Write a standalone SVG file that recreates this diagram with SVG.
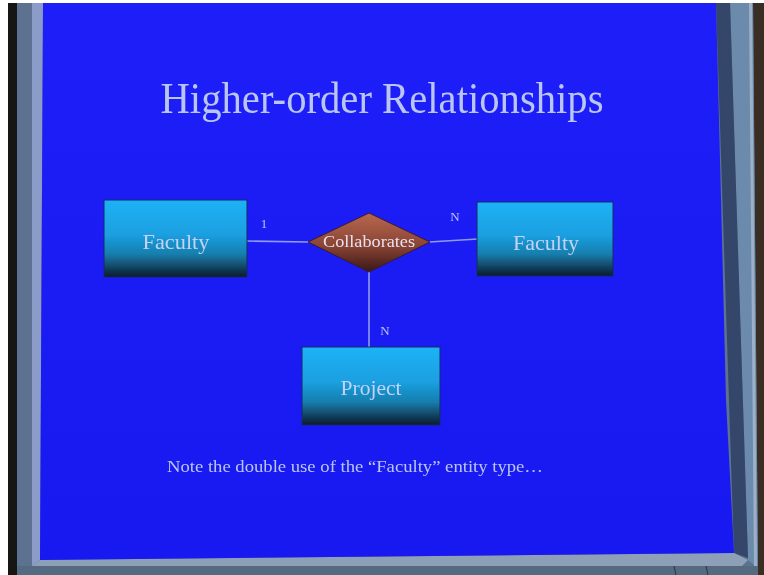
<svg xmlns="http://www.w3.org/2000/svg" width="764" height="575" viewBox="0 0 764 575">
  <defs>
    <linearGradient id="entityFill" x1="0" y1="0" x2="0" y2="1">
      <stop offset="0" stop-color="#1fb2f6"/>
      <stop offset="0.45" stop-color="#1a9fe0"/>
      <stop offset="0.7" stop-color="#177fae"/>
      <stop offset="1" stop-color="#0d1a2c"/>
    </linearGradient>
    <linearGradient id="relFill" x1="0" y1="0" x2="0" y2="1">
      <stop offset="0" stop-color="#b8684e"/>
      <stop offset="0.55" stop-color="#8a4434"/>
      <stop offset="1" stop-color="#3a1818"/>
    </linearGradient>
    <linearGradient id="screenFill" x1="0" y1="0" x2="0" y2="1">
      <stop offset="0" stop-color="#1e1ef8"/>
      <stop offset="1" stop-color="#1818f0"/>
    </linearGradient>
    <filter id="soft" x="-5%" y="-5%" width="110%" height="110%">
      <feGaussianBlur stdDeviation="0.6"/>
    </filter>
    <style>
      .entity { fill: url(#entityFill); stroke: #0e2a6a; stroke-width: 1; }
      .rel { fill: url(#relFill); stroke: #3a1a30; stroke-width: 1; }
      .label { font-family: "Liberation Serif", "Times New Roman", serif; fill: #b9c6f4; text-anchor: middle; }
      .name { fill: #c4d2f6; }
      .conn { stroke: #8e9cf0; stroke-width: 1.6; fill: none; }
    </style>
  </defs>

  <!-- room and monitor frame -->
  <rect x="0" y="0" width="764" height="575" fill="#3a2e24"/>
  <rect x="0" y="0" width="8" height="575" fill="#ffffff"/>
  <rect x="0" y="0" width="764" height="3" fill="#ffffff"/>
  <rect x="8" y="3" width="10" height="572" fill="#161614"/>
  <polygon points="17,3 753,3 758,575 17,575" fill="#5c7290"/>
  <polygon points="32,3 43,3 40,560 32,566" fill="#8c9cc8"/>
  <polygon points="730,3 753,3 758,568 748,560" fill="#6c8aac"/>
  <polygon points="749,3 752,3 757,568 754,568" fill="#9cb0c8"/>
  <polygon points="716,3 730,3 748,558 734,553" fill="#34466a"/>
  <polygon points="32,566 40,560 734,553 748,560 742,566" fill="#8ea0b8"/>
  <rect x="17" y="566" width="741" height="9" fill="#546a80"/>
  <line x1="674" y1="566" x2="676" y2="575" stroke="#2a3440" stroke-width="1"/>
  <line x1="706" y1="566" x2="708" y2="575" stroke="#2a3440" stroke-width="1"/>

  <!-- slide -->
  <polygon points="43,3 716,3 721,200 726,400 734,553 40,560" fill="url(#screenFill)"/>

  <g filter="url(#soft)">
    <text class="label" x="382" y="113" font-size="45" textLength="443" lengthAdjust="spacingAndGlyphs">Higher-order Relationships</text>

    <!-- connectors -->
    <g id="connectors">
      <line class="conn" x1="247" y1="241" x2="309" y2="242"/>
      <line class="conn" x1="429" y1="242" x2="478" y2="239"/>
      <line class="conn" x1="369" y1="271" x2="369" y2="347"/>
      <text class="label" x="264" y="228" font-size="13">1</text>
      <text class="label" x="455" y="221" font-size="13">N</text>
      <text class="label" x="385" y="335" font-size="13">N</text>
    </g>

    <g id="faculty-left">
      <rect class="entity" x="104" y="200" width="143" height="77"/>
      <text class="label name" x="176" y="249" font-size="22" textLength="67" lengthAdjust="spacingAndGlyphs">Faculty</text>
    </g>

    <g id="collaborates">
      <polygon class="rel" points="369,213 430,242 369,272 308,242"/>
      <text class="label" x="369" y="247" font-size="16" textLength="92" lengthAdjust="spacingAndGlyphs" style="fill:#e6e2f2">Collaborates</text>
    </g>

    <g id="faculty-right">
      <rect class="entity" x="477" y="202" width="136" height="74"/>
      <text class="label name" x="546" y="250" font-size="22" textLength="66" lengthAdjust="spacingAndGlyphs">Faculty</text>
    </g>

    <g id="project">
      <rect class="entity" x="302" y="347" width="138" height="78"/>
      <text class="label name" x="371" y="395" font-size="22" textLength="61" lengthAdjust="spacingAndGlyphs">Project</text>
    </g>

    <text class="label" x="355" y="472" font-size="16" textLength="376" lengthAdjust="spacingAndGlyphs">Note the double use of the “Faculty” entity type…</text>
  </g>
</svg>
